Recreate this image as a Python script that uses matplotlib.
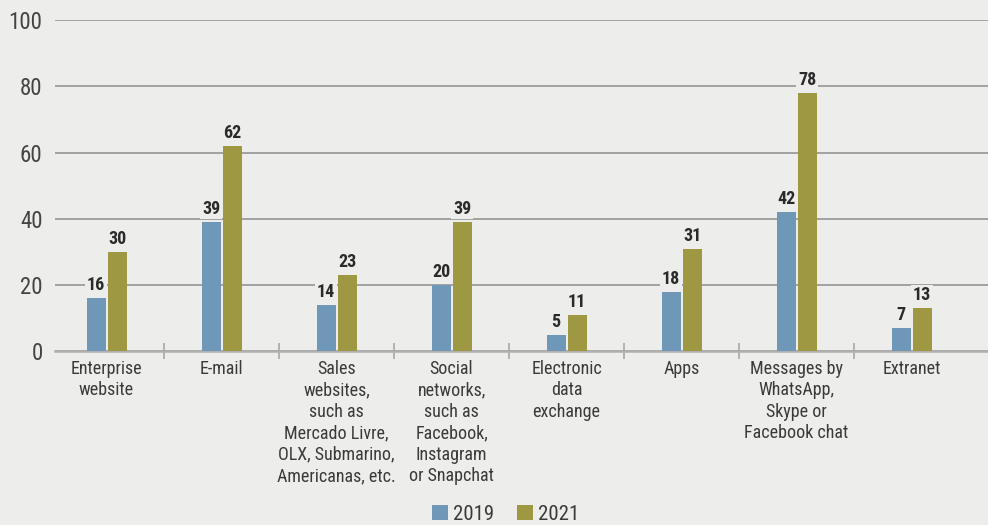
import matplotlib
matplotlib.use("Agg")
import matplotlib.pyplot as plt
from matplotlib import font_manager
import numpy as np

categories = [
    "Enterprise\nwebsite",
    "E-mail",
    "Sales\nwebsites,\nsuch as\nMercado Livre,\nOLX, Submarino,\nAmericanas, etc.",
    "Social\nnetworks,\nsuch as\nFacebook,\nInstagram\nor Snapchat",
    "Electronic\ndata\nexchange",
    "Apps",
    "Messages by\nWhatsApp,\nSkype or\nFacebook chat",
    "Extranet",
]
values_2019 = [16, 39, 14, 20, 5, 18, 42, 7]
values_2021 = [30, 62, 23, 39, 11, 31, 78, 13]
series_names = ["2019", "2021"]
yticks = [0, 20, 40, 60, 80, 100]


def is_condensed(f):
    s = f.stretch
    if isinstance(s, str):
        return "condensed" in s.lower() or "narrow" in f.name.lower()
    try:
        return int(s) < 500
    except Exception:
        return False


cond = [f for f in font_manager.fontManager.ttflist if is_condensed(f)]
cond_names = {f.name for f in cond}
fam = None
stretch = "normal"
for pref in ["Roboto Condensed", "Liberation Sans Narrow", "Open Sans Condensed",
             "Noto Sans", "Roboto", "DejaVu Sans", "Open Sans", "Lato", "Inter"]:
    if pref in cond_names:
        fam = pref
        stretch = "condensed"
        break
if fam is None:
    fam = "Roboto"

plt.rcParams["font.family"] = [fam, "DejaVu Sans"]
plt.rcParams["font.stretch"] = stretch

BG = "#EDEDEB"
C19 = "#6E97B8"
C21 = "#9F9843"
TXT = "#3a3a3a"

fig = plt.figure(figsize=(9.88, 5.25), dpi=100, facecolor=BG)
ax = fig.add_axes([55/988, 1-351.3/525, 1-55/988, (351.3-20.3)/525], facecolor=BG)

x = np.arange(len(categories))
w = 0.165
off = 0.0913
b1 = ax.bar(x - off, values_2019, w, color=C19, label=series_names[0], zorder=3)
b2 = ax.bar(x + off, values_2021, w, color=C21, label=series_names[1], zorder=3)
for bars in (b1, b2):
    labs = ax.bar_label(bars, padding=3, fontsize=13, fontweight="bold", color="#2a2a2a", zorder=4)
    for t in labs:
        t.set_bbox(dict(facecolor=BG, edgecolor="none", pad=1.0))

ax.set_xlim(-0.448, 7.665)
ax.set_ylim(0, 100)
ax.set_yticks(yticks)
ax.set_yticklabels([str(v) for v in yticks], fontsize=16.5, color="#444444")
ax.tick_params(axis="y", length=0, pad=9)
ax.yaxis.grid(True, color="#9c9c9c", linewidth=1.3, zorder=0)
ax.set_axisbelow(True)

ax.set_xticks(x)
ax.set_xticklabels(categories, fontsize=13, color=TXT, linespacing=1.25)
ax.tick_params(axis="x", which="major", length=0, pad=6)
ax.set_xticks(np.arange(len(categories) - 1) + 0.5, minor=True)
ax.tick_params(axis="x", which="minor", direction="inout", length=12, width=1.2, color="#a8a8a8")

for s in ["top", "right", "left"]:
    ax.spines[s].set_visible(False)
ax.spines["bottom"].set_color("#b0b0b0")
ax.spines["bottom"].set_linewidth(1.8)

leg = fig.legend(handles=[b1, b2], loc="center", bbox_to_anchor=(0.512, 1 - 514/525), ncol=2,
                 frameon=False, fontsize=15, handlelength=0.75, handleheight=0.75,
                 handletextpad=0.25, columnspacing=1.1, labelcolor=TXT, borderpad=0)

fig.savefig("out.png", dpi=100, facecolor=BG)
